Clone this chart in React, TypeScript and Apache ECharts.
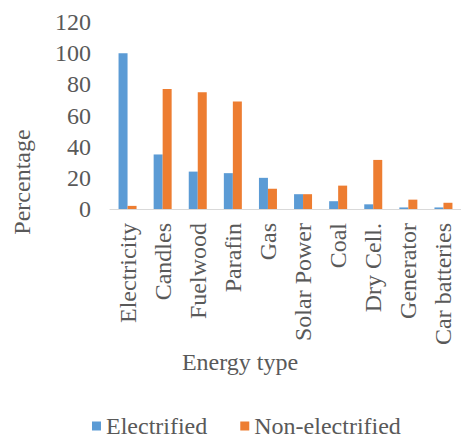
import React, { useEffect, useRef } from "react";
import * as echarts from "echarts";

const categories = ["Electricity", "Candles", "Fuelwood", "Parafin", "Gas", "Solar Power", "Coal", "Dry Cell.", "Generator", "Car batteries"];
const electrified = [100, 35, 24, 23, 20, 9.5, 5, 3, 1, 1];
const nonElectrified = [2, 77, 75, 69, 13, 9.5, 15, 31.5, 6, 4];
const yTicks = { min: 0, max: 120, interval: 20 };

const FONT = "'Liberation Serif', 'Times New Roman', serif";
const GREY = "#595959";
const FS = 24;

export default function App() {
  const ref = useRef<HTMLDivElement>(null);
  useEffect(() => {
    if (!ref.current) return;
    const chart = echarts.init(ref.current, undefined, { renderer: "svg" });
    chart.setOption({
      animation: false,
      textStyle: { fontFamily: FONT },
      grid: { left: 110, right: -1, top: 22, bottom: 230, containLabel: false },
      legend: {
        top: 414,
        left: 92,
        padding: 0,
        itemWidth: 9,
        itemHeight: 9,
        itemGap: 33,
        icon: "rect",
        textStyle: { fontFamily: FONT, fontSize: FS, color: GREY, lineHeight: 22 },
        data: ["Electrified", "Non-electrified"],
      },
      xAxis: {
        type: "category",
        data: categories,
        axisLine: { lineStyle: { color: "#d9d9d9", width: 1 } },
        axisTick: { show: false },
        axisLabel: { rotate: 90, fontFamily: FONT, fontSize: FS, color: GREY, margin: 14, interval: 0 },
      },
      yAxis: {
        type: "value",
        min: yTicks.min,
        max: yTicks.max,
        interval: yTicks.interval,
        splitLine: { show: false },
        axisLine: { show: false },
        axisTick: { show: false },
        axisLabel: { fontFamily: FONT, fontSize: FS, color: GREY, margin: 19 },
      },
      graphic: [
        {
          type: "text",
          x: 22,
          y: 182,
          rotation: Math.PI / 2,
          style: { text: "Percentage", font: `${FS}px ${FONT}`, fill: GREY, align: "center", verticalAlign: "middle" },
        },
        {
          type: "text",
          x: 240,
          y: 362,
          style: { text: "Energy type", font: `${FS}px ${FONT}`, fill: GREY, align: "center", verticalAlign: "middle" },
        },
      ],
      series: [
        { name: "Electrified", type: "bar", data: electrified, barWidth: 9, barGap: "0%", itemStyle: { color: "#5b9bd5" } },
        { name: "Non-electrified", type: "bar", data: nonElectrified, barWidth: 9, barGap: "0%", itemStyle: { color: "#ed7d31" } },
      ],
    });
    return () => chart.dispose();
  }, []);
  return <div ref={ref} style={{ position: "absolute", left: 0, top: 0, width: 461, height: 439 }} />;
}
